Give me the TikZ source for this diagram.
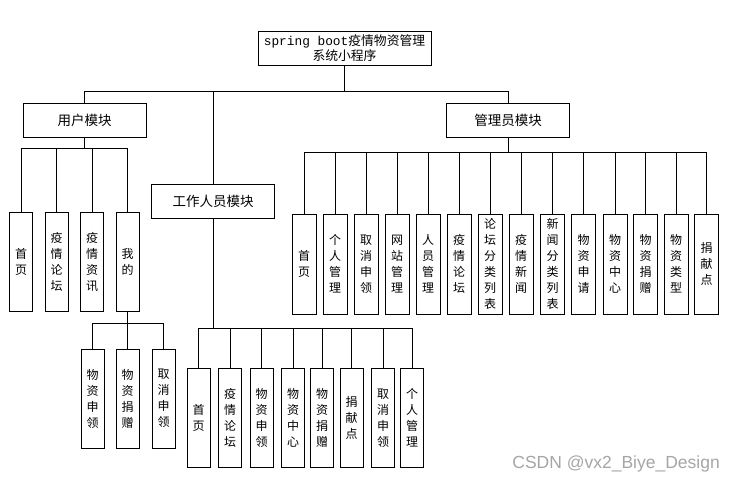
\documentclass[tikz,border=0pt]{standalone}
\usepackage{fontspec}
\setmainfont{Noto Sans CJK SC}
\newfontfamily\cjk{Noto Sans CJK SC}
\newfontfamily\monofam{Liberation Mono}
\newfontfamily\wmfam{Liberation Sans}
\begin{document}
\begin{tikzpicture}[x=1pt,y=-1pt,
  every node/.style={inner sep=0pt, font=\cjk},
  rootbox/.style={draw=black, line width=0.8pt, minimum width=173pt, minimum height=34pt, align=center, font=\cjk\fontsize{12.8}{15}\selectfont},
  modbox/.style={draw=black, line width=0.8pt, minimum width=123pt, minimum height=34pt, font=\cjk\fontsize{13.5}{16}\selectfont},
  leafbox/.style={draw=black, line width=0.8pt, minimum width=23pt, minimum height=99pt, align=center, font=\cjk\fontsize{12}{16}\selectfont},
  link/.style={draw=black, line width=0.7pt},
  wmark/.style={text=gray!70, font=\wmfam\fontsize{17.5}{20}\selectfont}
]
\useasboundingbox (0,0) rectangle (735,483);
\fill[white] (0,0) rectangle (735,483);

% root
\node[rootbox] (root) at (344.5,48) {{\monofam spring boot}疫情物资管理\\系统小程序};

% modules
\node[modbox] (user) at (84.5,120) {用户模块};
\node[modbox] (adm) at (508,120) {管理员模块};
\node[modbox] (wk) at (213,201.5) {工作人员模块};

\draw[link] (root.south) -- ++(0,26) -| (user.north);
\draw[link] (root.south) -- ++(0,26) -| (adm.north);
\draw[link] (root.south) -- ++(0,26) -| (wk.north);

% user leaves
\foreach \n/\x/\t in {u1/21/首\\页, u2/56.5/疫\\情\\论\\坛, u3/92/疫\\情\\资\\讯, u4/127.5/我\\的}{
  \node[leafbox] (\n) at (\x,261.5) {\t};
  \draw[link] (user.south) -- ++(0,11) -| (\n.north);
}

% sub leaves of 我的
\foreach \n/\x/\t in {m1/92.5/物\\资\\申\\领, m2/127.5/物\\资\\捐\\赠, m3/163.5/取\\消\\申\\领}{
  \node[leafbox] (\n) at (\x,398.5) {\t};
  \draw[link] (u4.south) -- ++(0,12) -| (\n.north);
}

% worker leaves
\foreach \n/\x/\t in {w1/198.5/首\\页, w2/230/疫\\情\\论\\坛, w3/261.5/物\\资\\申\\领, w4/293/物\\资\\中\\心, w5/322/物\\资\\捐\\赠, w6/351.5/捐\\献\\点, w7/383/取\\消\\申\\领, w8/412/个\\人\\管\\理}{
  \node[leafbox] (\n) at (\x,418) {\t};
  \draw[link] (wk.south) -- ++(0,109) -| (\n.north);
}

% admin leaves
\foreach \n/\x/\t in {a1/304/首\\页, a2/335/个\\人\\管\\理, a3/366/取\\消\\申\\领, a4/397/网\\站\\管\\理, a5/428/人\\员\\管\\理, a6/459/疫\\情\\论\\坛, a7/490/论\\坛\\分\\类\\列\\表, a8/521/疫\\情\\新\\闻, a9/552.5/新\\闻\\分\\类\\列\\表, a10/583.5/物\\资\\申\\请, a11/615/物\\资\\中\\心, a12/645.5/物\\资\\捐\\赠, a13/676/物\\资\\类\\型, a14/706.5/捐\\献\\点}{
  \node[leafbox, minimum width=24pt, minimum height=100pt] (\n) at (\x,264) {\t};
  \draw[link] (adm.south) -- ++(0,15) -| (\n.north);
}

% watermark
\node[wmark, anchor=east] (wm) at (720,464) {CSDN @vx2\_Biye\_Design};
\end{tikzpicture}
\end{document}
